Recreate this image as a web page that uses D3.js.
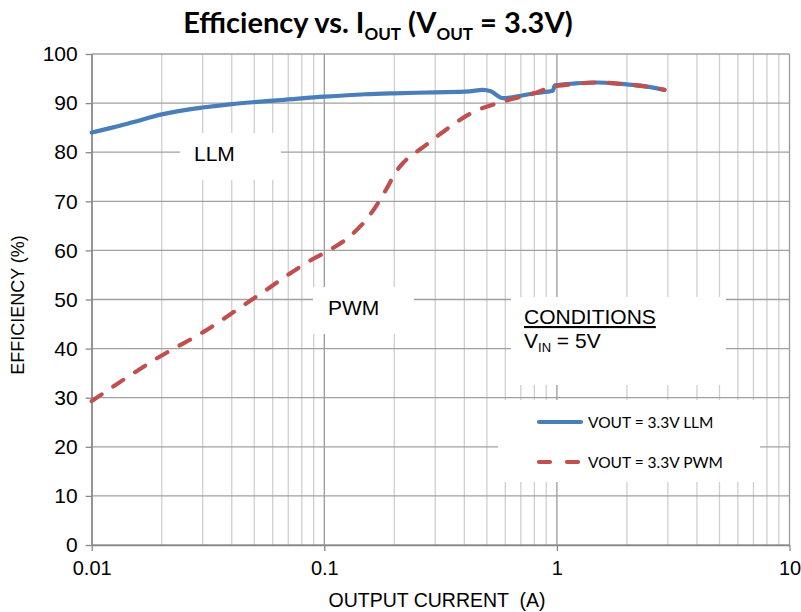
<!DOCTYPE html>
<html><head><meta charset="utf-8">
<script src="https://cdn.jsdelivr.net/npm/d3@7"></script>
<style>
body{margin:0;background:#fff;}
svg{display:block;}
</style></head>
<body>
<script>
// ---- data ----
const xTicks = [0.01, 0.1, 1, 10];
const xTickLabels = ["0.01", "0.1", "1", "10"];
const yTicks = [0,10,20,30,40,50,60,70,80,90,100];

const llmCurrent = [0.01, 0.0125, 0.015, 0.02, 0.03, 0.04, 0.05, 0.065, 0.1, 0.15, 0.2, 0.3, 0.42, 0.48, 0.52, 0.585, 0.7, 0.8, 0.96, 0.98, 1.2, 1.48, 1.9, 2.4, 2.9];
const llmEff     = [84.0, 85.1, 86.1, 87.7, 89.1, 89.8, 90.2, 90.6, 91.3, 91.8, 92.0, 92.2, 92.4, 92.7, 92.4, 91.0, 91.5, 92.0, 92.5, 93.6, 94.0, 94.2, 93.9, 93.4, 92.7];

const pwmCurrent = [0.01, 0.02, 0.03, 0.05, 0.0914, 0.1, 0.129, 0.157, 0.186, 0.202, 0.218, 0.245, 0.274, 0.315, 0.43, 0.585, 0.8, 0.96, 1.2, 1.48, 1.9, 2.4, 2.9];
const pwmEff     = [29.3, 38.6, 43.3, 50.3, 58.5, 59.5, 62.9, 67.2, 72.7, 75.8, 77.8, 79.8, 81.5, 83.7, 88.0, 90.3, 92.0, 93.3, 93.9, 94.2, 93.9, 93.4, 92.7];

const seriesNames = ["VOUT = 3.3V LLM", "VOUT = 3.3V PWM"];
const colors = ["#4a7ebb", "#c0504d"];

// ---- chart ----
const W = 801, H = 612;
const svg = d3.select("body").append("svg").attr("width", W).attr("height", H);

const x = d3.scaleLog().domain([0.01, 10]).range([91.7, 789.5]);
const y = d3.scaleLinear().domain([0, 100]).range([545, 54]);

// minor vertical grid
const minor = [];
for (let d = 0.01; d < 10; d *= 10) for (let k = 2; k <= 9; k++) minor.push(+(d * k).toPrecision(3));
const g = svg.append("g");
g.selectAll(".vmin").data(minor).enter().append("line")
  .attr("x1", d => x(d)).attr("x2", d => x(d)).attr("y1", y(100)).attr("y2", y(0))
  .attr("stroke", "#cfcfcf").attr("stroke-width", 1.3);
g.selectAll(".vmaj").data(xTicks).enter().append("line")
  .attr("x1", d => x(d)).attr("x2", d => x(d)).attr("y1", y(100)).attr("y2", y(0))
  .attr("stroke", "#9a9a9a").attr("stroke-width", 1.3);
g.selectAll(".hmaj").data(yTicks).enter().append("line")
  .attr("x1", x(0.01)).attr("x2", x(10)).attr("y1", d => y(d)).attr("y2", d => y(d))
  .attr("stroke", "#a0a0a0").attr("stroke-width", 1.3);

// axes
const xAxis = d3.axisBottom(x).tickValues(xTicks).tickFormat((d, i) => xTickLabels[i]).tickSize(6).tickSizeOuter(0);
const gx = svg.append("g").attr("transform", `translate(0,${y(0)})`).call(xAxis);
gx.select(".domain").attr("stroke", "#888").attr("stroke-width", 1.3);
gx.selectAll(".tick line").attr("stroke", "#888").attr("stroke-width", 1.3);
gx.selectAll(".tick text").attr("font-family", "Liberation Sans, Arial, sans-serif").attr("font-size", 20).attr("fill", "#000").attr("dy", "1.05em");

const yAxis = d3.axisLeft(y).tickValues(yTicks).tickSize(6).tickSizeOuter(0);
const gy = svg.append("g").attr("transform", `translate(${x(0.01)},0)`).call(yAxis);
gy.select(".domain").attr("stroke", "#888").attr("stroke-width", 1.3);
gy.selectAll(".tick line").attr("stroke", "#888").attr("stroke-width", 1.3);
gy.selectAll(".tick text").attr("font-family", "Liberation Sans, Arial, sans-serif").attr("font-size", 21).attr("fill", "#000").attr("x", -14);

// white label boxes
const boxes = [[180,133,101,47],[313,287,101,47],[511,297,215,88],[498,400,262,82]];
svg.selectAll(".box").data(boxes).enter().append("rect")
  .attr("x", d => d[0]).attr("y", d => d[1]).attr("width", d => d[2]).attr("height", d => d[3]).attr("fill", "#fff");

// lines
const line = d3.line().x(d => x(d[0])).y(d => y(d[1])).curve(d3.curveMonotoneX);
const llm = llmCurrent.map((c, i) => [c, llmEff[i]]);
const pwm = pwmCurrent.map((c, i) => [c, pwmEff[i]]);
svg.append("path").datum(llm).attr("d", line).attr("fill", "none").attr("stroke", colors[0]).attr("stroke-width", 4.2).attr("stroke-linecap", "round").attr("stroke-linejoin", "round");
svg.append("path").datum(pwm).attr("d", line).attr("fill", "none").attr("stroke", colors[1]).attr("stroke-width", 4.2).attr("stroke-linecap", "round").attr("stroke-dasharray", "12,14");

// labels
const sans = "Liberation Sans, Arial, sans-serif";
svg.append("text").attr("x", 194).attr("y", 161).attr("font-family", sans).attr("font-size", 21).text("LLM");
svg.append("text").attr("x", 328).attr("y", 315).attr("font-family", sans).attr("font-size", 21).text("PWM");
svg.append("text").attr("x", 524).attr("y", 324).attr("font-family", sans).attr("font-size", 21).attr("text-decoration", "underline").text("CONDITIONS");
const vin = svg.append("text").attr("x", 524).attr("y", 348).attr("font-family", sans).attr("font-size", 21);
vin.append("tspan").text("V");
vin.append("tspan").attr("font-size", 13).attr("dy", 4).text("IN");
vin.append("tspan").attr("dy", -4).text(" = 5V");

// axis titles
svg.append("text").attr("x", 437).attr("y", 607).attr("text-anchor", "middle").attr("font-family", sans).attr("font-size", 19.5)
  .style("white-space", "pre").text("OUTPUT CURRENT  (A)");
svg.append("text").attr("transform", "translate(24,305) rotate(-90)").attr("text-anchor", "middle").attr("font-family", sans).attr("font-size", 18).text("EFFICIENCY (%)");

// title
const title = svg.append("text").attr("x", 378).attr("y", 33).attr("text-anchor", "middle").attr("font-family", "Lato, sans-serif").attr("font-weight", "bold").attr("font-size", 29);
title.append("tspan").text("Efficiency vs. I");
title.append("tspan").attr("font-size", 17).attr("dy", 7).text("OUT");
title.append("tspan").attr("dy", -7).text(" (V");
title.append("tspan").attr("font-size", 17).attr("dy", 7).text("OUT");
title.append("tspan").attr("dy", -7).text(" = 3.3V)");

// legend
const lf = "Lato, 'Open Sans', sans-serif";
const leg = svg.append("g");
leg.append("line").attr("x1", 539).attr("x2", 581).attr("y1", 422).attr("y2", 422).attr("stroke", colors[0]).attr("stroke-width", 4.2).attr("stroke-linecap", "round");
leg.append("line").attr("x1", 539).attr("x2", 581).attr("y1", 462).attr("y2", 462).attr("stroke", colors[1]).attr("stroke-width", 4.2).attr("stroke-linecap", "round").attr("stroke-dasharray", "11,17");
leg.append("text").attr("x", 588).attr("y", 428).attr("font-family", lf).attr("font-size", 15.5).text(seriesNames[0]);
leg.append("text").attr("x", 588).attr("y", 468).attr("font-family", lf).attr("font-size", 15.5).text(seriesNames[1]);
</script>
</body></html>
